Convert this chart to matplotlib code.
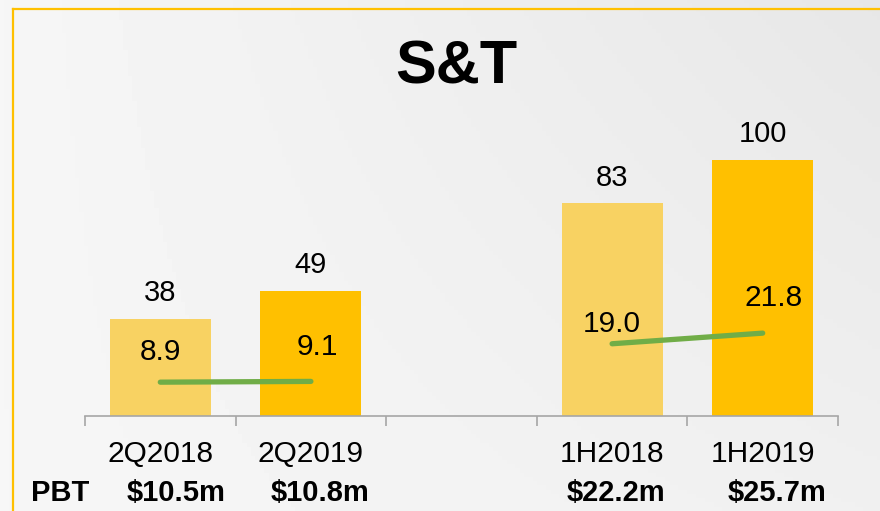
import matplotlib
matplotlib.use("Agg")
import matplotlib.pyplot as plt
import numpy as np
from matplotlib.lines import Line2D

plt.rcParams['font.family'] = ['Liberation Sans', 'DejaVu Sans']

# data
categories = ['2Q2018', '2Q2019', '', '1H2018', '1H2019']
revenue = [38, 49, None, 83, 100]
margin_q = [8.9, 9.1]
margin_h = [19.0, 21.8]
pbt_labels = ['$10.5m', '$10.8m', '', '$22.2m', '$25.7m']

light_yellow = '#F8D262'
gold = '#FFC000'
bar_colors = [light_yellow, gold, 'none', light_yellow, gold]
green = '#70AD47'

fig = plt.figure(figsize=(8.8, 5.11), dpi=100)
fig.patch.set_facecolor('#F4F4F4')

# soft gray gradient behind everything
bg = fig.add_axes([0, 0, 1, 1], zorder=-10)
xx, yy = np.meshgrid(np.linspace(0, 1, 200), np.linspace(0, 1, 120))
grad = 0.965 - 0.06 * xx * (0.4 + 0.6 * yy)
bg.imshow(grad, cmap='gray', vmin=0, vmax=1, aspect='auto', extent=[0, 1, 0, 1], origin='lower')
bg.set_xlim(0, 1)
bg.set_ylim(0, 1)
bg.axis('off')

# yellow frame on top/left
fig.add_artist(Line2D([13/880, 13/880], [0, 1 - 9/511], color=gold, lw=1.6, transform=fig.transFigure))
fig.add_artist(Line2D([13/880, 1], [1 - 9/511, 1 - 9/511], color=gold, lw=1.6, transform=fig.transFigure))

ax = fig.add_axes([85/880, 95/511, (838 - 85)/880, (416 - 140)/511])
ax.patch.set_alpha(0)

x = np.arange(len(categories))
heights = [v if v is not None else 0 for v in revenue]
bars = ax.bar(x, heights, width=0.67, color=bar_colors)
for xi, v in zip(x, revenue):
    if v is not None:
        ax.text(xi, v + 4.6, str(v), ha='center', va='bottom', fontsize=21)

ax.set_xlim(-0.5, len(categories) - 0.5)
ax.set_ylim(0, 107.8)
for s in ['top', 'right', 'left']:
    ax.spines[s].set_visible(False)
ax.spines['bottom'].set_color('#A6A6A6')
ax.spines['bottom'].set_linewidth(1.2)
ax.set_yticks([])
ax.set_xticks(np.arange(-0.5, len(categories)), minor=False)
ax.set_xticklabels([])
ax.tick_params(axis='x', which='major', length=7, width=1.2, color='#A6A6A6', direction='out')
ax.set_xticks(x, minor=True)
ax.set_xticklabels(categories, minor=True, fontsize=21.5)
ax.tick_params(axis='x', which='minor', length=0, pad=17)

# margin line on second scale
ax2 = ax.twinx()
ax2.set_ylim(0, 72.6)
ax2.axis('off')
ax2.plot(x[:2], margin_q, color=green, lw=3.8, solid_capstyle='round')
ax2.plot(x[3:], margin_h, color=green, lw=3.8, solid_capstyle='round')
label_dx = [0, 0.03, 0, 0.05]
label_dy = [30, 34, 20, 35]
for xi, v, dx, dy in zip(list(x[:2]) + list(x[3:]), margin_q + margin_h, label_dx, label_dy):
    ax2.annotate(f'{v:.1f}', (xi, v), xytext=(dx * 150, dy * 0.72), textcoords='offset points',
                 ha='center', va='center', fontsize=21.5)

# PBT row
fig.text(31/880, 1 - 493/511, 'PBT', fontsize=21, fontweight='bold', ha='left', va='center')
pbt_dx = [16, 9, 0, 4, 14]
for xi, lab, dx in zip(x, pbt_labels, pbt_dx):
    if lab:
        ax.annotate(lab, (xi, 0), xycoords=('data', 'axes fraction'), xytext=(dx * 0.72, -77 * 0.72),
                    textcoords='offset points', ha='center', va='center', fontsize=21, fontweight='bold')

fig.text(456/880, 1 - 68/511, 'S&T', fontsize=44, fontweight='bold', ha='center', va='center')

fig.savefig('out.png', dpi=100, facecolor=fig.get_facecolor())
